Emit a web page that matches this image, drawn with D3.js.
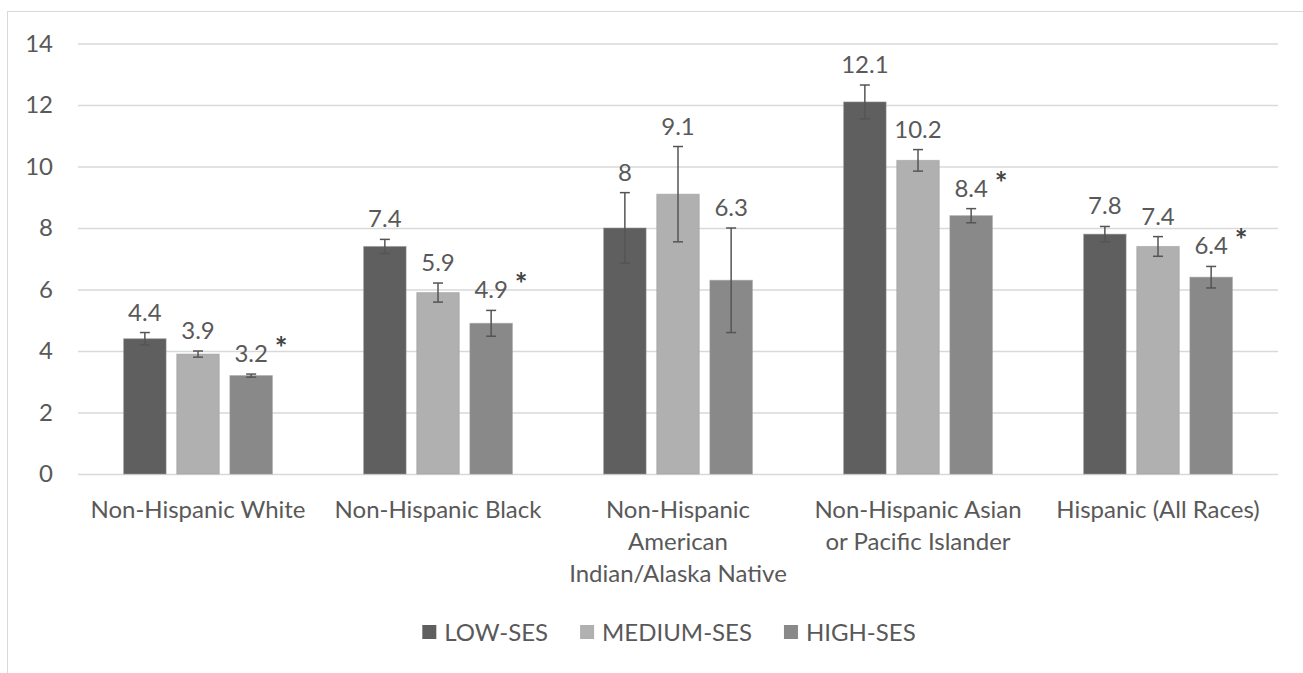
<!DOCTYPE html>
<html>
<head>
<meta charset="utf-8">
<script src="https://cdn.jsdelivr.net/npm/d3@7"></script>
<style>
  body { margin: 0; background: #fff; }
  text { font-family: Lato, "Open Sans", sans-serif; fill: #595959; }
</style>
</head>
<body>
<script>
// groups on the x axis, with the line breaks used for the tick labels
const groups = ["Non-Hispanic White", "Non-Hispanic Black", "Non-Hispanic American Indian/Alaska Native",
    "Non-Hispanic Asian or Pacific Islander", "Hispanic (All Races)"];
const groupLines = [
    ["Non-Hispanic White"],
    ["Non-Hispanic Black"],
    ["Non-Hispanic", "American", "Indian/Alaska Native"],
    ["Non-Hispanic Asian", "or Pacific Islander"],
    ["Hispanic (All Races)"]
];
const keys = ["LOW-SES", "MEDIUM-SES", "HIGH-SES"];

// values per series
const lowSES = [4.4, 7.4, 8, 12.1, 7.8];
const mediumSES = [3.9, 5.9, 9.1, 10.2, 7.4];
const highSES = [3.2, 4.9, 6.3, 8.4, 6.4];

// error bar half widths
const lowErr = [0.2, 0.23, 1.15, 0.55, 0.25];
const mediumErr = [0.1, 0.31, 1.55, 0.35, 0.32];
const highErr = [0.05, 0.42, 1.7, 0.23, 0.35];

// asterisk next to the HIGH-SES label
const significant = [true, true, false, true, true];

const yTicks = [0, 2, 4, 6, 8, 10, 12, 14];

const seriesValues = [lowSES, mediumSES, highSES];
const seriesErr = [lowErr, mediumErr, highErr];

const data = [];
groups.forEach((g, i) => {
    keys.forEach((k, j) => {
        data.push({group: g, key: k, value: seriesValues[j][i], err: seriesErr[j][i], star: j == 2 && significant[i]});
    });
});

const W = 1303, H = 673;
const fontSize = 24;
const svg = d3.select("body")
    .append("svg")
    .attr("width", W)
    .attr("height", H);

// chart frame
svg.append("rect")
    .attr("x", 7.5)
    .attr("y", 11.5)
    .attr("width", W)
    .attr("height", H)
    .attr("fill", "none")
    .attr("stroke", "#d9d9d9");

const x0 = d3.scaleBand()
    .domain(groups)
    .range([78, 1278])
    .paddingInner(0.38)
    .paddingOuter(0.19);

const x1 = d3.scaleBand()
    .domain(keys)
    .range([0, x0.bandwidth()])
    .paddingInner(0.2);

const y = d3.scaleLinear()
    .domain([0, 14])
    .range([474, 43.5]);

const color = d3.scaleOrdinal()
    .domain(keys)
    .range(["#5f5f5f", "#b0b0b0", "#898989"]);

// gridlines + y labels
const yAxis = svg.append("g")
    .attr("transform", "translate(78,0)")
    .call(d3.axisLeft(y).tickValues(yTicks).tickSize(-1200).tickPadding(25));
yAxis.select(".domain").remove();
yAxis.selectAll(".tick line").attr("stroke", "#d9d9d9").attr("stroke-width", 1.5);
yAxis.selectAll(".tick text")
    .attr("font-size", fontSize)
    .attr("fill", "#595959")
    .style("font-family", "Lato, sans-serif");

// bars
const barG = svg.append("g");
barG.selectAll("rect")
    .data(data)
    .join("rect")
    .attr("x", d => x0(d.group) + x1(d.key))
    .attr("y", d => y(d.value))
    .attr("width", x1.bandwidth())
    .attr("height", d => y(0) - y(d.value))
    .attr("fill", d => color(d.key))
    .attr("stroke", "#9a9a9a")
    .attr("stroke-opacity", 0.5);

// error bars
const cap = 5;
const err = svg.append("g")
    .attr("stroke", "#555")
    .attr("stroke-width", 1.5);
data.forEach(d => {
    const cx = x0(d.group) + x1(d.key) + x1.bandwidth() / 2;
    const y1 = y(d.value + d.err), y2 = y(d.value - d.err);
    err.append("line").attr("x1", cx).attr("x2", cx).attr("y1", y1).attr("y2", y2);
    err.append("line").attr("x1", cx - cap).attr("x2", cx + cap).attr("y1", y1).attr("y2", y1);
    err.append("line").attr("x1", cx - cap).attr("x2", cx + cap).attr("y1", y2).attr("y2", y2);
});

// value labels
svg.append("g")
    .selectAll("text")
    .data(data)
    .join("text")
    .attr("x", d => x0(d.group) + x1(d.key) + x1.bandwidth() / 2)
    .attr("y", d => y(d.value + d.err) - 12)
    .attr("text-anchor", "middle")
    .attr("font-size", fontSize)
    .text(d => d.value);

svg.append("g")
    .selectAll("text")
    .data(data.filter(d => d.star))
    .join("text")
    .attr("x", d => x0(d.group) + x1(d.key) + x1.bandwidth() / 2 + 30)
    .attr("y", d => y(d.value + d.err) - 12 - 3)
    .attr("text-anchor", "middle")
    .attr("font-size", 30)
    .attr("font-weight", "bold")
    .style("fill", "#444")
    .text("*");

// x labels
const xl = svg.append("g")
    .selectAll("text")
    .data(groups)
    .join("text")
    .attr("x", d => x0(d) + x0.bandwidth() / 2)
    .attr("y", 518)
    .attr("text-anchor", "middle")
    .attr("font-size", fontSize);
xl.selectAll("tspan")
    .data((d, i) => groupLines[i])
    .join("tspan")
    .attr("x", function() { return this.parentNode.getAttribute("x"); })
    .attr("dy", (d, i) => i == 0 ? 0 : 32)
    .text(d => d);

// legend
const legendRectSize = 14;
const legendSpacing = 8;
const legend = svg.append("g");
const items = legend.selectAll("g")
    .data(keys)
    .join("g");
items.append("rect")
    .attr("width", legendRectSize)
    .attr("height", legendRectSize)
    .attr("y", -legendRectSize / 2)
    .attr("fill", d => color(d));
items.append("text")
    .attr("x", legendRectSize + legendSpacing)
    .attr("y", 9)
    .attr("font-size", fontSize)
    .text(d => d);
let pos = 0;
items.each(function() {
    d3.select(this).attr("transform", `translate(${pos},0)`);
    pos += this.getBBox().width + 32;
});
pos -= 32;
legend.attr("transform", `translate(${669 - pos / 2},632)`);
</script>
</body>
</html>
